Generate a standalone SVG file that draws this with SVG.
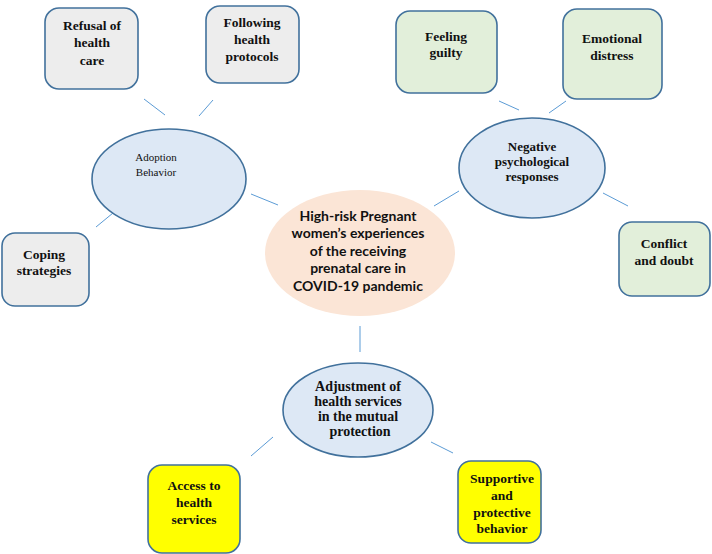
<svg xmlns="http://www.w3.org/2000/svg" width="712" height="554" viewBox="0 0 712 554">
<style>
.box{stroke:#41719c;stroke-width:1.6}
.gray{fill:#ededed}
.green{fill:#e2efda}
.yellow{fill:#ffff00}
.ell{fill:#dde8f5;stroke:#41719c;stroke-width:1.6}
.t{font-family:"Liberation Serif",serif;font-weight:bold;font-size:13.5px;fill:#111;text-anchor:middle}
.tr{font-family:"Liberation Serif",serif;font-size:11px;fill:#111;text-anchor:middle}
.tc{font-family:Lato,"Open Sans",sans-serif;font-weight:bold;font-size:14px;fill:#111;text-anchor:middle}
.c line{stroke:#5b9bd5;stroke-width:1}
</style>
<rect width="712" height="554" fill="#fff"/>
<g class="c" id="connectors">
<line x1="144" y1="99" x2="165" y2="115"/>
<line x1="213" y1="100" x2="199" y2="116"/>
<line x1="113" y1="213" x2="96" y2="227"/>
<line x1="251" y1="194" x2="278" y2="205"/>
<line x1="499" y1="101" x2="519" y2="110"/>
<line x1="566" y1="101" x2="549" y2="113"/>
<line x1="434" y1="206" x2="459" y2="191"/>
<line x1="603" y1="193" x2="628" y2="206"/>
<line x1="360" y1="326" x2="360" y2="352"/>
<line x1="273" y1="437" x2="251" y2="456"/>
<line x1="431" y1="442" x2="453" y2="453"/>
</g>
<g id="center">
<ellipse cx="360" cy="253" rx="95" ry="63" fill="#fbe5d6"/>
<text class="tc" x="358" y="221">High-risk Pregnant</text>
<text class="tc" x="358" y="238">women’s experiences</text>
<text class="tc" x="358" y="256">of the receiving</text>
<text class="tc" x="358" y="273">prenatal care in</text>
<text class="tc" x="358" y="291">COVID-19 pandemic</text>
</g>
<g id="adoption">
<ellipse class="ell" cx="169" cy="179" rx="77" ry="50"/>
<text class="tr" x="156" y="161">Adoption</text>
<text class="tr" x="156" y="176">Behavior</text>
</g>
<g id="refusal">
<rect class="box gray" x="45" y="8" width="93" height="81" rx="14"/>
<text class="t" x="92" y="30">Refusal of</text>
<text class="t" x="92" y="47">health</text>
<text class="t" x="92" y="65">care</text>
</g>
<g id="following">
<rect class="box gray" x="206" y="6" width="93" height="77" rx="14"/>
<text class="t" x="252" y="27">Following</text>
<text class="t" x="252" y="44">health</text>
<text class="t" x="252" y="61">protocols</text>
</g>
<g id="coping">
<rect class="box gray" x="2" y="233" width="87" height="73" rx="13"/>
<text class="t" x="44" y="259">Coping</text>
<text class="t" x="44" y="275">strategies</text>
</g>
<g id="negative">
<ellipse class="ell" cx="532" cy="168" rx="73" ry="50"/>
<text class="t" x="532" y="151" style="font-size:13px">Negative</text>
<text class="t" x="532" y="166" style="font-size:13px">psychological</text>
<text class="t" x="532" y="181" style="font-size:13px">responses</text>
</g>
<g id="guilty">
<rect class="box green" x="396" y="11" width="101" height="82" rx="14"/>
<text class="t" x="446" y="41">Feeling</text>
<text class="t" x="446" y="57">guilty</text>
</g>
<g id="distress">
<rect class="box green" x="563" y="9" width="99" height="90" rx="14"/>
<text class="t" x="612" y="43">Emotional</text>
<text class="t" x="612" y="60">distress</text>
</g>
<g id="conflict">
<rect class="box green" x="619" y="222" width="91" height="74" rx="13"/>
<text class="t" x="664" y="248">Conflict</text>
<text class="t" x="664" y="265">and doubt</text>
</g>
<g id="adjustment">
<ellipse class="ell" cx="358" cy="410" rx="75" ry="47"/>
<text class="t" x="358" y="391" style="font-size:14px">Adjustment of</text>
<text class="t" x="358" y="406" style="font-size:14px">health services</text>
<text class="t" x="358" y="421" style="font-size:14px">in the mutual</text>
<text class="t" x="360" y="436" style="font-size:14px">protection</text>
</g>
<g id="access">
<rect class="box yellow" x="148" y="465" width="92" height="88" rx="14"/>
<text class="t" x="194" y="490">Access to</text>
<text class="t" x="194" y="507">health</text>
<text class="t" x="194" y="524">services</text>
</g>
<g id="supportive">
<rect class="box yellow" x="458" y="461" width="83" height="82" rx="13"/>
<text class="t" x="502" y="483">Supportive</text>
<text class="t" x="502" y="500">and</text>
<text class="t" x="502" y="517">protective</text>
<text class="t" x="502" y="533">behavior</text>
</g>
</svg>
